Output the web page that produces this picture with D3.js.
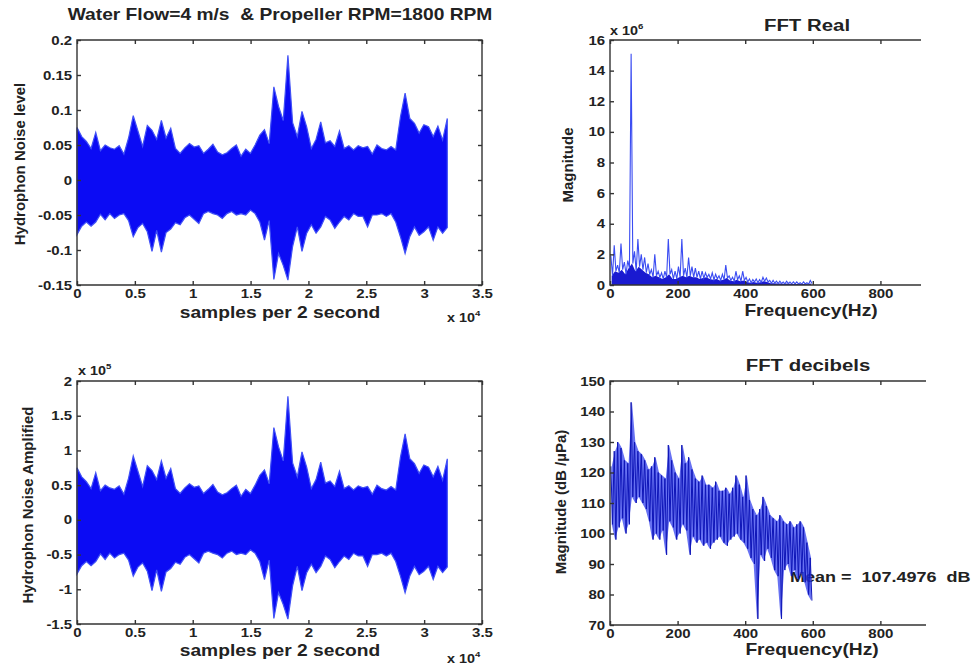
<!DOCTYPE html>
<html>
<head>
<meta charset="utf-8">
<script src="https://cdn.jsdelivr.net/npm/d3@7"></script>
<style>
  body { margin: 0; background: #fff; }
  svg { display: block; font-family: "Liberation Sans", Arial, sans-serif; }
</style>
</head>
<body>
<svg id="fig" width="980" height="666"></svg>
<script>
"use strict";

// ---- data ----
// hydrophone signal envelope, one max/min per 400-sample bin (0 .. 32000 samples)
const noiseUpper = [
  0.075, 0.062, 0.055, 0.045, 0.068, 0.042, 0.050, 0.046, 0.044, 0.049,
  0.037, 0.060, 0.092, 0.070, 0.048, 0.078, 0.071, 0.058, 0.085, 0.060,
  0.074, 0.045, 0.038, 0.046, 0.052, 0.047, 0.049, 0.038, 0.044, 0.051,
  0.040, 0.036, 0.039, 0.045, 0.050, 0.034, 0.044, 0.038, 0.050, 0.064,
  0.072, 0.052, 0.133, 0.105, 0.085, 0.178, 0.082, 0.062, 0.098, 0.076,
  0.045, 0.058, 0.083, 0.053, 0.056, 0.048, 0.070, 0.045, 0.049, 0.043,
  0.049, 0.046, 0.048, 0.037, 0.050, 0.045, 0.043, 0.048, 0.043, 0.090,
  0.124, 0.088, 0.081, 0.067, 0.079, 0.076, 0.062, 0.077, 0.057, 0.088
];
const noiseLower = [
  -0.078, -0.066, -0.060, -0.066, -0.060, -0.049, -0.057, -0.048, -0.055, -0.050,
  -0.048, -0.058, -0.081, -0.068, -0.062, -0.074, -0.102, -0.072, -0.103, -0.075,
  -0.070, -0.061, -0.064, -0.054, -0.050, -0.056, -0.062, -0.048, -0.045, -0.048,
  -0.050, -0.055, -0.048, -0.045, -0.050, -0.048, -0.050, -0.043, -0.048, -0.060,
  -0.086, -0.058, -0.142, -0.105, -0.122, -0.143, -0.095, -0.067, -0.102, -0.076,
  -0.064, -0.076, -0.067, -0.052, -0.057, -0.069, -0.060, -0.052, -0.057, -0.048,
  -0.052, -0.052, -0.067, -0.050, -0.050, -0.048, -0.052, -0.048, -0.060, -0.081,
  -0.105, -0.081, -0.067, -0.079, -0.074, -0.067, -0.086, -0.067, -0.076, -0.068
];
const totalSamples = 32000;
const ampGain = 1e6;   // amplified = level * gain

// spectra, one max/min per 10 Hz bin (centres 5 .. 595 Hz)
const fftFreq = [
  5, 15, 25, 35, 45, 55, 65, 75, 85, 95,
  105, 115, 125, 135, 145, 155, 165, 175, 185, 195,
  205, 215, 225, 235, 245, 255, 265, 275, 285, 295,
  305, 315, 325, 335, 345, 355, 365, 375, 385, 395,
  405, 415, 425, 435, 445, 455, 465, 475, 485, 495,
  505, 515, 525, 535, 545, 555, 565, 575, 585, 595
];
// magnitude in units of 1e6: peaks and the dense floor of the trace
const fftRealMax = [
  1.9, 2.6, 1.3, 2.7, 1.5, 1.6, 15.1, 2.2, 3.0, 2.0,
  1.8, 1.4, 1.0, 2.0, 0.9, 0.8, 0.9, 3.0, 1.0, 0.9,
  1.2, 3.0, 1.1, 1.8, 1.2, 1.1, 0.9, 0.9, 0.8, 0.7,
  0.8, 0.7, 0.6, 0.7, 1.3, 0.6, 0.5, 0.9, 0.6, 0.9,
  0.5, 0.4, 0.35, 0.4, 0.35, 0.5, 0.45, 0.3, 0.3, 0.25,
  0.25, 0.2, 0.25, 0.2, 0.2, 0.2, 0.15, 0.2, 0.15, 0.3
];
const fftRealMin = [
  0.6, 0.9, 0.8, 1.0, 0.7, 1.1, 1.4, 0.9, 1.2, 1.0,
  0.8, 0.7, 0.5, 0.6, 0.5, 0.4, 0.5, 0.7, 0.4, 0.4,
  0.5, 0.6, 0.5, 0.6, 0.5, 0.5, 0.4, 0.45, 0.5, 0.4,
  0.35, 0.4, 0.3, 0.35, 0.45, 0.3, 0.25, 0.35, 0.25, 0.3,
  0.2, 0.15, 0.2, 0.15, 0.18, 0.25, 0.2, 0.12, 0.12, 0.1,
  0.1, 0.08, 0.1, 0.08, 0.07, 0.07, 0.06, 0.07, 0.05, 0.1
];
// decibels
const fftDbMax = [
  122, 127, 130, 128, 124, 123, 143, 130, 127, 126,
  124, 121, 122, 125, 120, 119, 118, 129, 124, 120,
  118, 129, 123, 125, 121, 118, 117, 119, 116, 116,
  115, 117, 114, 114, 115, 113, 115, 119, 116, 112,
  119, 111, 108, 106, 108, 112, 109, 106, 105, 104,
  106, 104, 103, 104, 102, 103, 104, 102, 97, 92
];
const fftDbMin = [
  103, 98, 102, 105, 100, 103, 112, 110, 112, 110,
  108, 104, 98, 100, 98, 101, 93, 104, 102, 98,
  100, 103, 101, 93, 99, 97, 98, 96, 97, 95,
  97, 98, 99, 97, 96, 98, 99, 100, 98, 97,
  95, 92, 90, 72, 93, 91, 95, 92, 88, 86,
  72, 88, 90, 86, 88, 85, 87, 84, 80, 78
];
const meanDb = 107.4976;

// tick values
const sampleTicks = [0, 5000, 10000, 15000, 20000, 25000, 30000, 35000];
const levelTicks = [-0.15, -0.1, -0.05, 0, 0.05, 0.1, 0.15, 0.2];
const ampTicks = [-1.5e5, -1e5, -0.5e5, 0, 0.5e5, 1e5, 1.5e5, 2e5];
const freqTicks = [0, 200, 400, 600, 800];
const realTicks = [0, 2, 4, 6, 8, 10, 12, 14, 16];
const dbTicks = [70, 80, 90, 100, 110, 120, 130, 140, 150];

// ---- drawing ----
const svg = d3.select("#fig");
const SX = 1.2;          // lettering in the figure is stretched sideways a little
const ink = "#222";
const blue = "#0b0bf4";

function hText(x, y, str, size, anchor) {
  return svg.append("text")
    .attr("transform", `translate(${x},${y}) scale(${SX},1)`)
    .attr("text-anchor", anchor || "middle")
    .attr("font-size", size)
    .attr("font-weight", "bold")
    .attr("fill", ink)
    .style("white-space", "pre")
    .text(str);
}

function vText(x, y, str, size) {
  return svg.append("text")
    .attr("transform", `translate(${x},${y}) rotate(-90)`)
    .attr("text-anchor", "middle")
    .attr("dy", "0.35em")
    .attr("font-size", size)
    .attr("font-weight", "bold")
    .attr("fill", ink)
    .text(str);
}

function expLabel(x, y, power) {
  const t = hText(x, y, "x 10", 12, "start");
  t.append("tspan").attr("dy", -6).attr("font-size", 8).text(power);
}

// axes with inward MATLAB-style ticks
function drawAxes(x, y, xTicks, yTicks, xFmt, yFmt, fullBox) {
  const [x0, x1] = x.range();
  const [y1, y0] = y.range();
  const g = svg.append("g");

  const style = sel => {
    sel.select(".domain").remove();
    sel.selectAll(".tick line").attr("stroke", "#333").attr("stroke-width", 1.4);
    sel.selectAll(".tick text")
      .attr("font-size", 12.5).attr("font-weight", "bold").attr("fill", ink)
      .attr("font-family", "Liberation Sans, Arial, sans-serif");
  };

  g.append("g").attr("transform", `translate(0,${y1})`)
    .call(d3.axisBottom(x).tickValues(xTicks).tickSize(-4).tickPadding(4).tickFormat(xFmt))
    .call(style)
    .selectAll(".tick text").attr("transform", `scale(${SX},1)`);
  g.append("g").attr("transform", `translate(0,${y0})`)
    .call(d3.axisTop(x).tickValues(xTicks).tickSize(-4).tickFormat(""))
    .call(style);
  g.append("g").attr("transform", `translate(${x0},0)`)
    .call(d3.axisLeft(y).tickValues(yTicks).tickSize(-4).tickPadding(4).tickFormat(yFmt))
    .call(style)
    .selectAll(".tick text").attr("transform", `scale(${SX},1)`);
  if (fullBox) {
    g.append("g").attr("transform", `translate(${x1},0)`)
      .call(d3.axisRight(y).tickValues(yTicks).tickSize(-4).tickFormat(""))
      .call(style);
  }

  const frame = fullBox
    ? `M${x0},${y0}H${x1}V${y1}H${x0}Z`
    : `M${x1},${y0}H${x0}V${y1}H${x1}`;
  g.append("path").attr("d", frame).attr("fill", "none")
    .attr("stroke", "#333").attr("stroke-width", 1.4);
}

const numFmt = v => String(+v.toFixed(2));

// envelope points for the time signal
const noiseBins = noiseUpper.map((u, i) => ({
  s: i * totalSamples / (noiseUpper.length - 1),
  hi: u,
  lo: noiseLower[i]
}));

function signalPath(x, y, gain) {
  return d3.area()
    .x(d => x(d.s))
    .y0(d => y(d.lo * gain))
    .y1(d => y(d.hi * gain));
}

// --- top left: hydrophone level ---
const xS = d3.scaleLinear().domain([0, 35000]).range([77, 482]);
const yLevel = d3.scaleLinear().domain([-0.15, 0.2]).range([285, 40]);

svg.append("path").datum(noiseBins)
  .attr("d", signalPath(xS, yLevel, 1))
  .attr("fill", blue).attr("stroke", "#4050f6").attr("stroke-width", 1.2);
drawAxes(xS, yLevel, sampleTicks, levelTicks, d => numFmt(d / 1e4), numFmt, true);

hText(280, 20, "Water Flow=4 m/s  & Propeller RPM=1800 RPM", 16);
hText(280, 318, "samples per 2 second", 16);
expLabel(447, 322, "4");
vText(20, 164, "Hydrophon Noise level", 15);

// --- bottom left: amplified ---
const xS2 = d3.scaleLinear().domain([0, 35000]).range([77, 482]);
const yAmp = d3.scaleLinear().domain([-1.5e5, 2e5]).range([624, 381]);

svg.append("path").datum(noiseBins)
  .attr("d", signalPath(xS2, yAmp, ampGain))
  .attr("fill", blue).attr("stroke", "#4050f6").attr("stroke-width", 1.2);
drawAxes(xS2, yAmp, sampleTicks, ampTicks, d => numFmt(d / 1e4), d => numFmt(d / 1e5), true);

hText(280, 656, "samples per 2 second", 16);
expLabel(447, 663, "4");
expLabel(78, 375, "5");
vText(28, 505, "Hydrophon Noise Amplified", 15);

// --- top right: FFT real ---
const xF = d3.scaleLinear().domain([0, 920]).range([610, 921]);
const yReal = d3.scaleLinear().domain([0, 16]).range([285, 40]);

svg.append("path").datum(fftFreq.map((f, i) => [f, fftRealMin[i]]))
  .attr("d", d3.area().x(d => xF(d[0])).y0(yReal(0)).y1(d => yReal(d[1])))
  .attr("fill", "#1a1ad0");
const realZig = fftFreq.flatMap((f, i) => [[f - 2.5, fftRealMax[i]], [f + 2.5, fftRealMin[i]]]);
svg.append("path").datum(realZig)
  .attr("d", d3.line().x(d => xF(d[0])).y(d => yReal(d[1])))
  .attr("fill", "none").attr("stroke", "#3a4cf2").attr("stroke-width", 1.1);
drawAxes(xF, yReal, freqTicks, realTicks, d => String(d), d => String(d), false);

hText(807, 31, "FFT Real", 17);
hText(811, 316, "Frequency(Hz)", 16);
expLabel(610, 35, "6");
vText(568, 165, "Magnitude", 15);

// --- bottom right: FFT decibels ---
const xF2 = d3.scaleLinear().domain([0, 935]).range([610, 926]);
const yDb = d3.scaleLinear().domain([70, 150]).range([625, 381]);

hText(790, 582, `Mean =  ${meanDb}  dB`, 15, "start");

svg.append("path").datum(fftFreq.map((f, i) => [f, fftDbMin[i], fftDbMax[i]]))
  .attr("d", d3.area().x(d => xF2(d[0])).y0(d => yDb(d[1])).y1(d => yDb(d[2])))
  .attr("fill", "#3442ee").attr("fill-opacity", 0.75);
const dbZig = fftFreq.flatMap((f, i) => [[f - 2.5, fftDbMax[i]], [f + 2.5, fftDbMin[i]]]);
svg.append("path").datum(dbZig)
  .attr("d", d3.line().x(d => xF2(d[0])).y(d => yDb(d[1])))
  .attr("fill", "none").attr("stroke", "#0f16b8").attr("stroke-width", 1);
drawAxes(xF2, yDb, freqTicks, dbTicks, d => String(d), d => String(d), false);

hText(808, 371, "FFT decibels", 17);
hText(812, 655, "Frequency(Hz)", 16);
vText(561, 502, "Magnitude (dB /\u00b5Pa)", 15);
</script>
</body>
</html>
